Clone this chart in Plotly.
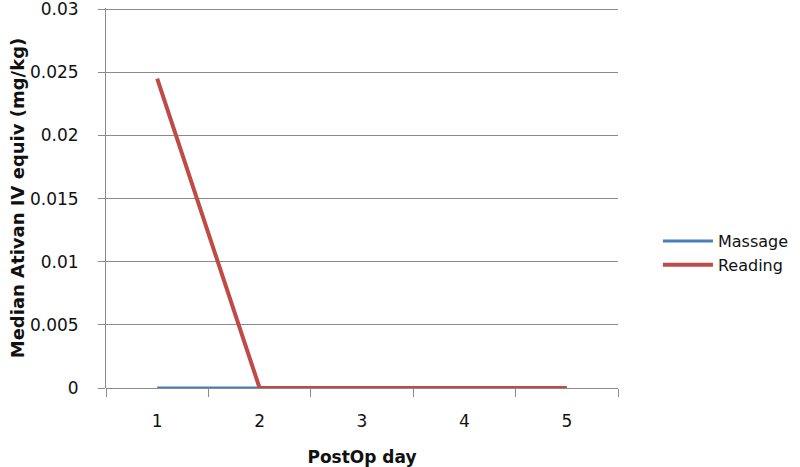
import plotly.graph_objects as go

# data
days = ["1", "2", "3", "4", "5"]
massage = [0, 0, 0, 0, 0]
reading = [0.0245, 0, 0, 0, 0]
y_ticks = [0, 0.005, 0.01, 0.015, 0.02, 0.025, 0.03]
y_tick_text = ["0", "0.005", "0.01", "0.015", "0.02", "0.025", "0.03"]

FONT = "DejaVu Sans"
GRID = "#8a8a8a"
TXT = "#111"

fig = go.Figure()

fig.add_trace(go.Scatter(
    x=days, y=massage, name="Massage", mode="lines",
    line=dict(color="#4a7ebb", width=3)
))
fig.add_trace(go.Scatter(
    x=days, y=reading, name="Reading", mode="lines",
    line=dict(color="#be4b48", width=4)
))

fig.update_xaxes(
    type="category",
    range=[-0.5, 4.5],
    tickson="boundaries",
    ticks="outside", ticklen=8, tickcolor=GRID, tickwidth=1,
    ticklabelstandoff=21,
    showgrid=False, showline=False, zeroline=False,
    automargin=False,
    tickfont=dict(family=FONT, size=17, color=TXT),
    title=dict(text="<b>PostOp day</b>", font=dict(family=FONT, size=17, color=TXT), standoff=25),
)
fig.update_yaxes(
    range=[0, 0.0301],
    tickvals=y_ticks, ticktext=y_tick_text,
    ticks="outside", ticklen=7, tickcolor=GRID, tickwidth=1,
    ticklabelstandoff=16, ticklabeloverflow="allow",
    showgrid=True, gridcolor=GRID, gridwidth=1,
    showline=True, linecolor=GRID, linewidth=1,
    zeroline=True, zerolinecolor=GRID, zerolinewidth=1,
    automargin=False,
    tickfont=dict(family=FONT, size=17, color=TXT),
    title=dict(text="<b>Median Ativan IV equiv (mg/kg)</b>", font=dict(family=FONT, size=18, color=TXT), standoff=0),
)

fig.update_layout(
    width=800, height=467,
    plot_bgcolor="white", paper_bgcolor="white",
    margin=dict(l=106, r=182, t=8, b=79, autoexpand=False),
    showlegend=True,
    legend=dict(
        x=1.078, y=0.355, xanchor="left", yanchor="middle",
        font=dict(family=FONT, size=16, color=TXT),
        tracegroupgap=0, itemwidth=50,
    ),
)

# page body has an 8px default margin; drop it so the figure sits at 0,0
fig.write_html(
    "out.html",
    config={"displayModeBar": False},
    post_script="document.body.style.margin='0';",
)
